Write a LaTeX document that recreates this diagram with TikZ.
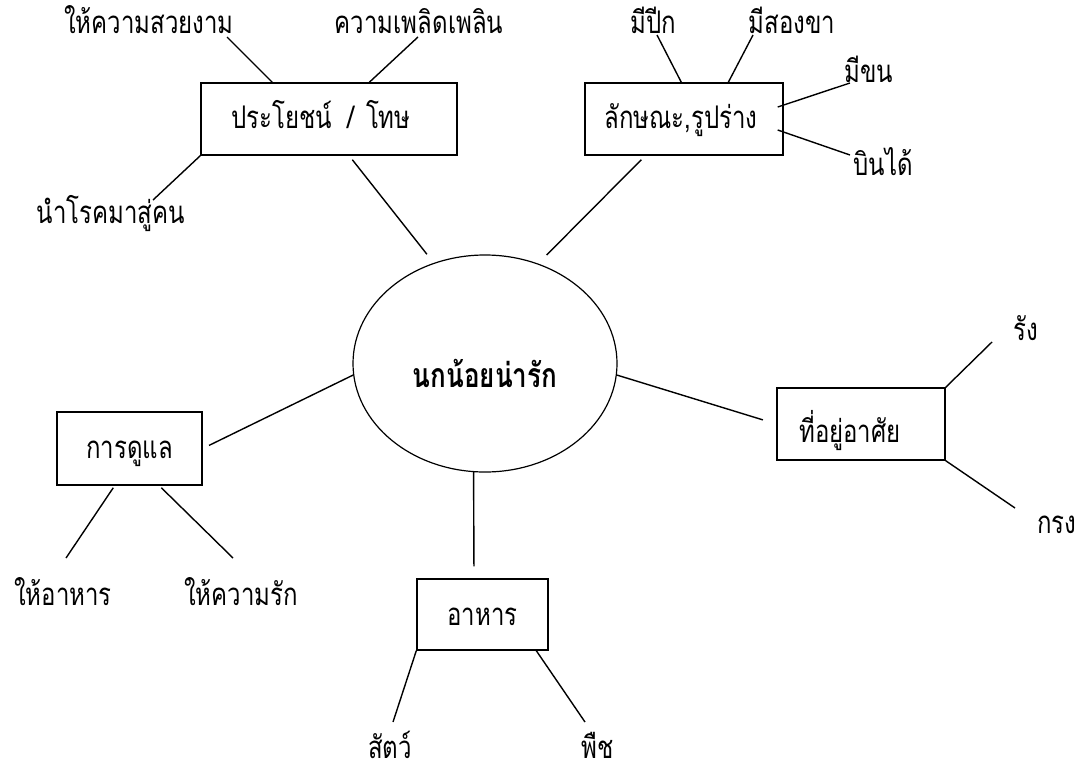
\documentclass[tikz,border=0pt]{standalone}
\usepackage{fontspec}
\usepackage{graphicx}
\newfontfamily\thaifont[Script=Thai]{Loma}
\newcommand\tallt[1]{\scalebox{1}[1.3]{#1}}
\usetikzlibrary{shapes.geometric}
\begin{document}
\begin{tikzpicture}[x=1pt,y=-1pt,
  font=\thaifont\fontsize{24}{28}\selectfont,
  boxnode/.style={draw, line width=1.4pt, rectangle, inner sep=0pt, text height=20pt, text depth=8pt},
  lbl/.style={anchor=base, inner sep=0pt},
  conn/.style={line width=1.4pt}]
\useasboundingbox (0,0) rectangle (1089,774);
% centre
\node[draw, ellipse, line width=1.2pt, inner sep=0pt, minimum width=264pt, minimum height=217pt, text height=20pt, text depth=8pt] (c) at (485,363.5) {\raisebox{-17.5pt}{\tallt{\fontsize{26}{30}\selectfont\bfseries นกน้อยน่ารัก}}};
% boxes
\node[boxnode, minimum width=256pt, minimum height=72pt] (b1) at (329,119) {\raisebox{-3pt}{\tallt{ประโยชน์\hspace{15pt}/\hspace{12pt}โทษ}}\hspace*{16pt}};
\node[boxnode, minimum width=198pt, minimum height=72pt] (b2) at (684,119) {\raisebox{-3pt}{\tallt{ลักษณะ,รูปร่าง}}\hspace*{6pt}};
\node[boxnode, minimum width=145pt, minimum height=73pt] (b3) at (129.5,448.5) {\raisebox{-3.5pt}{\tallt{การดูแล}}};
\node[boxnode, minimum width=131pt, minimum height=71pt] (b4) at (482.5,614.5) {\raisebox{-4.5pt}{\tallt{อาหาร}}};
\node[boxnode, minimum width=168pt, minimum height=72pt] (b5) at (861,424) {\raisebox{-12pt}{\tallt{ที่อยู่อาศัย}}\hspace*{22pt}};
% labels
\node[lbl] (l1) at (149,33) {\tallt{ให้ความสวยงาม}};
\node[lbl] (l2) at (419,33) {\tallt{ความเพลิดเพลิน}};
\node[lbl] (l3) at (111,223) {\tallt{นำโรคมาสู่คน}};
\node[lbl] (l4) at (653,33) {\tallt{มีปีก}};
\node[lbl] (l5) at (792,33) {\tallt{มีสองขา}};
\node[lbl] (l6) at (869,82) {\tallt{มีขน}};
\node[lbl] (l7) at (883,175) {\tallt{บินได้}};
\node[lbl] (l8) at (1026,340) {\tallt{รัง}};
\node[lbl] (l9) at (1057,533) {\tallt{กรง}};
\node[lbl] (l10) at (63,605) {\tallt{ให้อาหาร}};
\node[lbl] (l11) at (241,605) {\tallt{ให้ความรัก}};
\node[lbl] (l12) at (390,758) {\tallt{สัตว์}};
\node[lbl] (l13) at (598,758) {\tallt{พืช}};
% free ends near labels
\coordinate (e1) at (227,37);
\coordinate (e2) at (418,37);
\coordinate (e3) at (153,200);
\coordinate (e4) at (657,35);
\coordinate (e5) at (753,35);
\coordinate (e6) at (850,83);
\coordinate (e7) at (850,155);
\coordinate (e8) at (992,342);
\coordinate (e9) at (1015,508);
\coordinate (e10) at (66,558);
\coordinate (e11) at (233,558);
\coordinate (e12) at (393,722);
\coordinate (e13) at (585,722);
% connectors to centre
\draw[conn, shorten >=11pt] ([xshift=152pt,yshift=-4pt]b1.south west) -- (c.117);
\draw[conn, shorten >=12pt] ([xshift=57pt,yshift=-4pt]b2.south west) -- (c.62);
\draw[conn, shorten <=7pt] (b3.east) -- (c.185);
\draw[conn, shorten >=14pt] (c.355) -- (b5.west);
\draw[conn, shorten >=12pt] (c.264.2) -- ([xshift=-8.5pt]b4.north);
% box1
\draw[conn] ([xshift=72pt]b1.north west) -- (e1);
\draw[conn] ([xshift=169pt]b1.north west) -- (e2);
\draw[conn] (b1.south west) -- (e3);
% box2
\draw[conn] ([xshift=97pt]b2.north west) -- (e4);
\draw[conn] ([xshift=144pt]b2.north west) -- (e5);
\draw[conn] ([xshift=-6pt,yshift=12pt]b2.east) -- (e6);
\draw[conn] ([xshift=-6pt,yshift=-11pt]b2.east) -- (e7);
% box3
\draw[conn] ([xshift=57pt,yshift=-2pt]b3.south west) -- (e10);
\draw[conn] ([xshift=105pt,yshift=-2pt]b3.south west) -- (e11);
% box4
\draw[conn] (b4.south west) -- (e12);
\draw[conn] ([xshift=120pt]b4.south west) -- (e13);
% box5
\draw[conn] (b5.north east) -- (e8);
\draw[conn] (b5.south east) -- (e9);
\end{tikzpicture}
\end{document}
